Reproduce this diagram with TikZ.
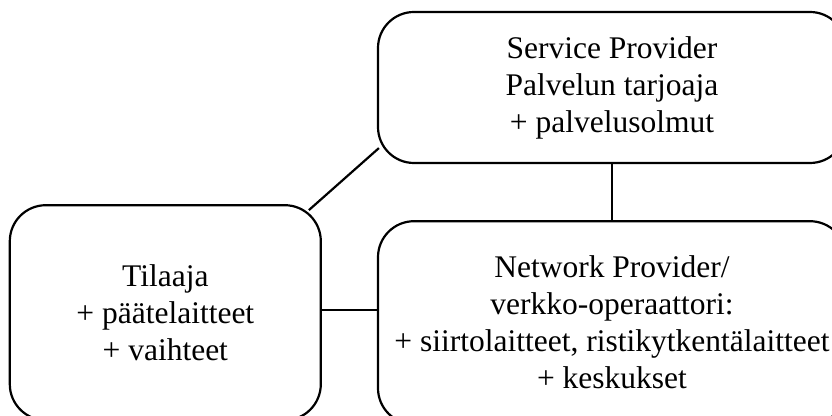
\documentclass[tikz,border=0pt]{standalone}
\usepackage{fontspec}
\setmainfont{Liberation Serif}
\usetikzlibrary{positioning}

\begin{document}
\begin{tikzpicture}[
        x=1pt, y=1pt,
        every path/.style={line width=2.2pt},
        box/.style={draw, rounded corners=36pt, inner sep=0pt, align=center,
                    font=\fontsize{31.5}{37}\selectfont},
        topbox/.style={box, minimum width=468pt, minimum height=151pt},
        netbox/.style={box, minimum width=468pt, minimum height=203pt},
        userbox/.style={box, minimum width=311pt, minimum height=215pt}
    ]
  \useasboundingbox (0,0) rectangle (832,415);

  % Nodes
  \node (provider) [topbox] at (612,327.5) {Service Provider\\Palvelun tarjoaja\\+ palvelusolmut};
  \node (network) [netbox, below=56pt of provider] {Network Provider/\\verkko-operaattori:\\+ siirtolaitteet, ristikytkentälaitteet\\+ keskukset};
  \node (tilaaja) [userbox, left=55pt of network, yshift=10pt] {Tilaaja\\+ päätelaitteet\\+ vaihteet};

  \draw ([shift={(-13pt,-6pt)}]tilaaja.north east) -- ([shift={(2pt,16pt)}]provider.south west);
  \draw (provider.south) -- (network.north);
  \draw ([yshift=3pt]tilaaja.east) -- ([yshift=3pt]tilaaja.east -| network.west);
\end{tikzpicture}
\end{document}
